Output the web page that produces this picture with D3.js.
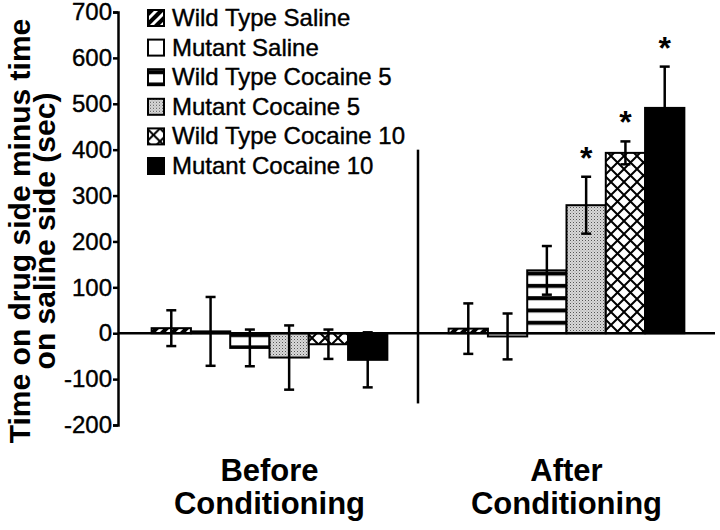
<!DOCTYPE html>
<html>
<head>
<meta charset="utf-8">
<script src="https://cdn.jsdelivr.net/npm/d3@7"></script>
<style>
  body { margin: 0; background: #fff; }
  text { font-family: "Liberation Sans", Arial, Helvetica, sans-serif; fill: #000; }
</style>
</head>
<body>
<svg width="720" height="530"></svg>
<script>
(function () {
    'use strict'

    // chart data
    const groups = ['Before Conditioning', 'After Conditioning'];
    const groupLines = [['Before', 'Conditioning'], ['After', 'Conditioning']];
    const series = ['Wild Type Saline', 'Mutant Saline', 'Wild Type Cocaine 5',
        'Mutant Cocaine 5', 'Wild Type Cocaine 10', 'Mutant Cocaine 10'];
    const beforeMeans = [11, 4, -32, -53, -24, -58];
    const beforeErr = [39, 75, 40, 70, 32, 60];
    const afterMeans = [10, -7, 137, 279, 393, 491];
    const afterErr = [55, 50, 53, 62, 25, 90];
    const afterSignificant = [false, false, false, true, true, true];
    const yTicks = [-200, -100, 0, 100, 200, 300, 400, 500, 600, 700];
    const yTitle = ['Time on drug side minus time', 'on saline side (sec)'];

    const rows = [];
    series.forEach((s, i) => {
        rows.push({ group: groups[0], series: s, i: i, mean: beforeMeans[i], err: beforeErr[i], sig: false });
        rows.push({ group: groups[1], series: s, i: i, mean: afterMeans[i], err: afterErr[i], sig: afterSignificant[i] });
    });

    let svg = d3.select('svg');

    // fill patterns, one per series
    let defs = svg.append('defs');

    let p0 = defs.append('pattern').attr('id', 'pat0')
        .attr('patternUnits', 'userSpaceOnUse').attr('width', 10).attr('height', 10);
    p0.append('rect').attr('width', 10).attr('height', 10).attr('fill', '#000');
    p0.append('path').attr('d', 'M-2,2 L2,-2 M0,10 L10,0 M8,12 L12,8')
        .attr('stroke', '#fff').attr('stroke-width', 3);

    let p1 = defs.append('pattern').attr('id', 'pat1')
        .attr('patternUnits', 'userSpaceOnUse').attr('width', 10).attr('height', 10);
    p1.append('rect').attr('width', 10).attr('height', 10).attr('fill', '#fff');

    let p2 = defs.append('pattern').attr('id', 'pat2')
        .attr('patternUnits', 'userSpaceOnUse').attr('width', 12).attr('height', 12.3);
    p2.append('rect').attr('width', 12).attr('height', 12.3).attr('fill', '#fff');
    p2.append('rect').attr('y', 1).attr('width', 12).attr('height', 4).attr('fill', '#000');

    let p3 = defs.append('pattern').attr('id', 'pat3')
        .attr('patternUnits', 'userSpaceOnUse').attr('width', 3).attr('height', 3);
    p3.append('rect').attr('width', 3).attr('height', 3).attr('fill', '#d8d8d8');
    p3.append('rect').attr('width', 1).attr('height', 1).attr('fill', '#555');
    p3.append('rect').attr('x', 1.5).attr('y', 1.5).attr('width', 1).attr('height', 1).attr('fill', '#999');

    let p4 = defs.append('pattern').attr('id', 'pat4')
        .attr('patternUnits', 'userSpaceOnUse').attr('width', 13).attr('height', 13);
    p4.append('rect').attr('width', 13).attr('height', 13).attr('fill', '#fff');
    p4.append('path').attr('d', 'M0,0 L13,13 M13,0 L0,13')
        .attr('stroke', '#000').attr('stroke-width', 2);

    let p5 = defs.append('pattern').attr('id', 'pat5')
        .attr('patternUnits', 'userSpaceOnUse').attr('width', 10).attr('height', 10);
    p5.append('rect').attr('width', 10).attr('height', 10).attr('fill', '#000');

    // scales
    let y = d3.scaleLinear()
        .domain([-200, 700])
        .range([425, 12]);

    let x0 = d3.scaleBand()
        .domain(groups)
        .range([121, 715])
        .padding(0);

    let x1 = d3.scaleBand()
        .domain(series)
        .range([0, x0.bandwidth()])
        .paddingInner(0)
        .paddingOuter(0.78);

    const axisX = 118;

    // y axis
    let yAxis = d3.axisLeft(y)
        .tickValues(yTicks)
        .tickFormat(d => String(d))
        .tickSize(5)
        .tickPadding(1);

    let ga = svg.append('g')
        .attr('transform', 'translate(' + axisX + ',0)')
        .call(yAxis);
    ga.select('.domain').attr('stroke', '#000').attr('stroke-width', 2.5);
    ga.selectAll('.tick line').attr('stroke', '#000').attr('stroke-width', 2.5);
    ga.selectAll('.tick text')
        .style('font-size', '24px')
        .style('font-family', '"Liberation Sans", Arial, sans-serif')
        .attr('fill', '#000')
        .attr('stroke', '#000')
        .attr('stroke-width', 0.4);

    // y title (two lines)
    svg.selectAll('text.ytitle')
        .data(yTitle)
        .enter()
        .append('text')
        .attr('class', 'ytitle')
        .attr('transform', (d, i) => 'translate(' + (30 + i * 25) + ',231) rotate(-90)')
        .attr('text-anchor', 'middle')
        .style('font-size', '30px')
        .style('font-weight', 'bold')
        .text(d => d);

    // divider between groups
    svg.append('line')
        .attr('x1', x0(groups[1])).attr('x2', x0(groups[1]))
        .attr('y1', y(400)).attr('y2', y(-153))
        .attr('stroke', '#000').attr('stroke-width', 2.5);

    // bars
    let g = svg.append('g');
    g.selectAll('rect.bar')
        .data(rows)
        .enter()
        .append('rect')
        .attr('class', 'bar')
        .attr('x', d => x0(d.group) + x1(d.series))
        .attr('width', x1.bandwidth())
        .attr('y', d => y(Math.max(0, d.mean)))
        .attr('height', d => Math.abs(y(d.mean) - y(0)))
        .attr('fill', d => 'url(#pat' + d.i + ')')
        .attr('stroke', '#000')
        .attr('stroke-width', 2);

    // zero line
    svg.append('line')
        .attr('x1', axisX).attr('x2', x0.range()[1])
        .attr('y1', y(0)).attr('y2', y(0))
        .attr('stroke', '#000').attr('stroke-width', 2.5);

    // error bars
    let eb = svg.append('g')
        .attr('stroke', '#000')
        .attr('stroke-width', 2.5);
    const cap = 5;
    rows.forEach(d => {
        let cx = x0(d.group) + x1(d.series) + x1.bandwidth() / 2;
        let top = y(d.mean + d.err), bot = y(d.mean - d.err);
        eb.append('line').attr('x1', cx).attr('x2', cx).attr('y1', top).attr('y2', bot);
        eb.append('line').attr('x1', cx - cap).attr('x2', cx + cap).attr('y1', top).attr('y2', top);
        eb.append('line').attr('x1', cx - cap).attr('x2', cx + cap).attr('y1', bot).attr('y2', bot);
    });

    // significance stars
    svg.selectAll('text.star')
        .data(rows.filter(d => d.sig))
        .enter()
        .append('text')
        .attr('class', 'star')
        .attr('x', d => x0(d.group) + x1(d.series) + x1.bandwidth() / 2)
        .attr('y', d => y(d.mean + d.err) - 8)
        .attr('text-anchor', 'middle')
        .style('font-size', '32px')
        .style('font-weight', 'bold')
        .text('*');

    // group labels
    groups.forEach((grp, gi) => {
        groupLines[gi].forEach((line, li) => {
            svg.append('text')
                .attr('x', x0(grp) + x0.bandwidth() / 2)
                .attr('y', 481 + li * 33)
                .attr('text-anchor', 'middle')
                .style('font-size', '31px')
                .style('font-weight', 'bold')
                .text(line);
        });
    });

    // legend
    let lg = svg.append('g').attr('transform', 'translate(147,10)');
    let item = lg.selectAll('g.item')
        .data(series)
        .enter()
        .append('g')
        .attr('class', 'item')
        .attr('transform', (d, i) => 'translate(0,' + (i * 29.6) + ')');
    item.append('rect')
        .attr('x', 1).attr('y', 0)
        .attr('width', 16).attr('height', 16)
        .attr('fill', (d, i) => 'url(#pat' + i + ')')
        .attr('stroke', '#000')
        .attr('stroke-width', 2);
    item.append('text')
        .attr('x', 25)
        .attr('y', 16)
        .style('font-size', '24px')
        .attr('stroke', '#000')
        .attr('stroke-width', 0.4)
        .text(d => d);

    console.log('chart drawn')
})();
</script>
</body>
</html>
